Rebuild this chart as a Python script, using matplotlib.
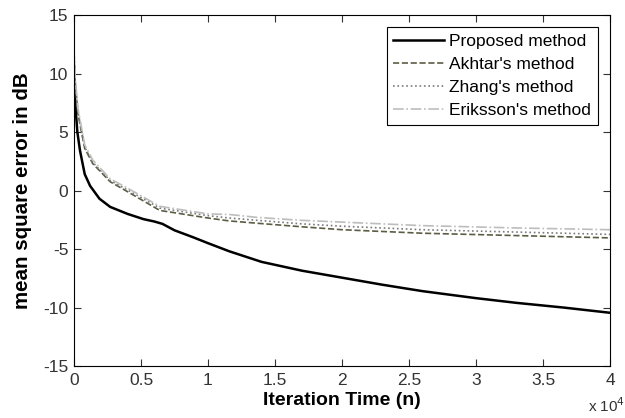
import matplotlib
matplotlib.use('agg')
import matplotlib.pyplot as plt
from matplotlib import ticker

it_prop = [0, 100, 250, 450, 800, 1200, 1900, 2700, 4000, 5200, 6000, 6600, 7500,
           8900, 10000, 11600, 14000, 17000, 20000, 23000, 26000, 30000, 33000,
           36500, 40000]
mse_prop = [9.7, 7.3, 5.0, 3.4, 1.4, 0.4, -0.7, -1.4, -2.0, -2.45, -2.65, -2.85, -3.4,
            -4.0, -4.5, -5.2, -6.1, -6.85, -7.45, -8.05, -8.6, -9.2, -9.6,
            -10.0, -10.45]

it_ref = [0, 100, 300, 800, 1400, 2700, 4000, 6400, 10000, 11600, 13700, 17000,
          20000, 26000, 33000, 40000]
mse_akhtar = [11.5, 9.0, 6.5, 3.6, 2.3, 0.75, -0.1, -1.7, -2.35, -2.6, -2.8, -3.1,
              -3.35, -3.65, -3.85, -4.05]
mse_zhang = [11.8, 9.2, 6.7, 3.7, 2.4, 0.85, 0.05, -1.5, -2.15, -2.35, -2.55, -2.85,
             -3.05, -3.35, -3.55, -3.75]
mse_eriksson = [12.0, 9.5, 7.0, 3.9, 2.6, 1.0, 0.2, -1.35, -2.0, -2.05, -2.3, -2.55,
                -2.7, -3.0, -3.2, -3.35]

plt.rcParams['font.family'] = ['Liberation Sans', 'DejaVu Sans']
plt.rcParams['axes.unicode_minus'] = False

fig = plt.figure(figsize=(6.25, 4.18), dpi=100)
ax = fig.add_axes([0.1184, 0.1244, 0.8576, 0.8396])

ax.plot(it_prop, mse_prop, '-', color='black', lw=1.8, label='Proposed method')
ax.plot(it_ref, mse_akhtar, '--', color='#5c5c44', lw=1.2, label="Akhtar's method")
ax.plot(it_ref, mse_zhang, ':', color='#7a7a7a', lw=1.2, label="Zhang's method")
ax.plot(it_ref, mse_eriksson, '-.', color='#bdbdbd', lw=1.2, label="Eriksson's method")

ax.set_xlim(0, 40000)
ax.set_ylim(-15, 15)
ax.set_xticks([i * 5000 for i in range(9)])
ax.set_yticks([-15, -10, -5, 0, 5, 10, 15])
ax.xaxis.set_major_formatter(ticker.FuncFormatter(lambda v, p: '%g' % (v / 1e4)))
ax.tick_params(direction='in', top=True, right=True, length=5, width=0.8,
               labelsize=12.5, colors='#333333', pad=4)
ax.tick_params(axis='x', pad=5)
for s in ax.spines.values():
    s.set_linewidth(0.8)

ax.set_xlabel('Iteration Time (n)', fontsize=14, fontweight='bold', labelpad=3)
ax.set_ylabel('mean square error in dB', fontsize=14.8, fontweight='bold', labelpad=8)
fig.text(0.94, 0.015, r'x 10$^4$', fontsize=11, color='#333333')

leg = ax.legend(loc='upper right', fontsize=12.5, handlelength=2.9, handletextpad=0.3,
                labelspacing=0.45, borderpad=0.4, borderaxespad=0.7,
                fancybox=False, framealpha=1)
leg.get_frame().set_edgecolor('black')
leg.get_frame().set_linewidth(0.8)

fig.savefig('out.png', dpi=100)
